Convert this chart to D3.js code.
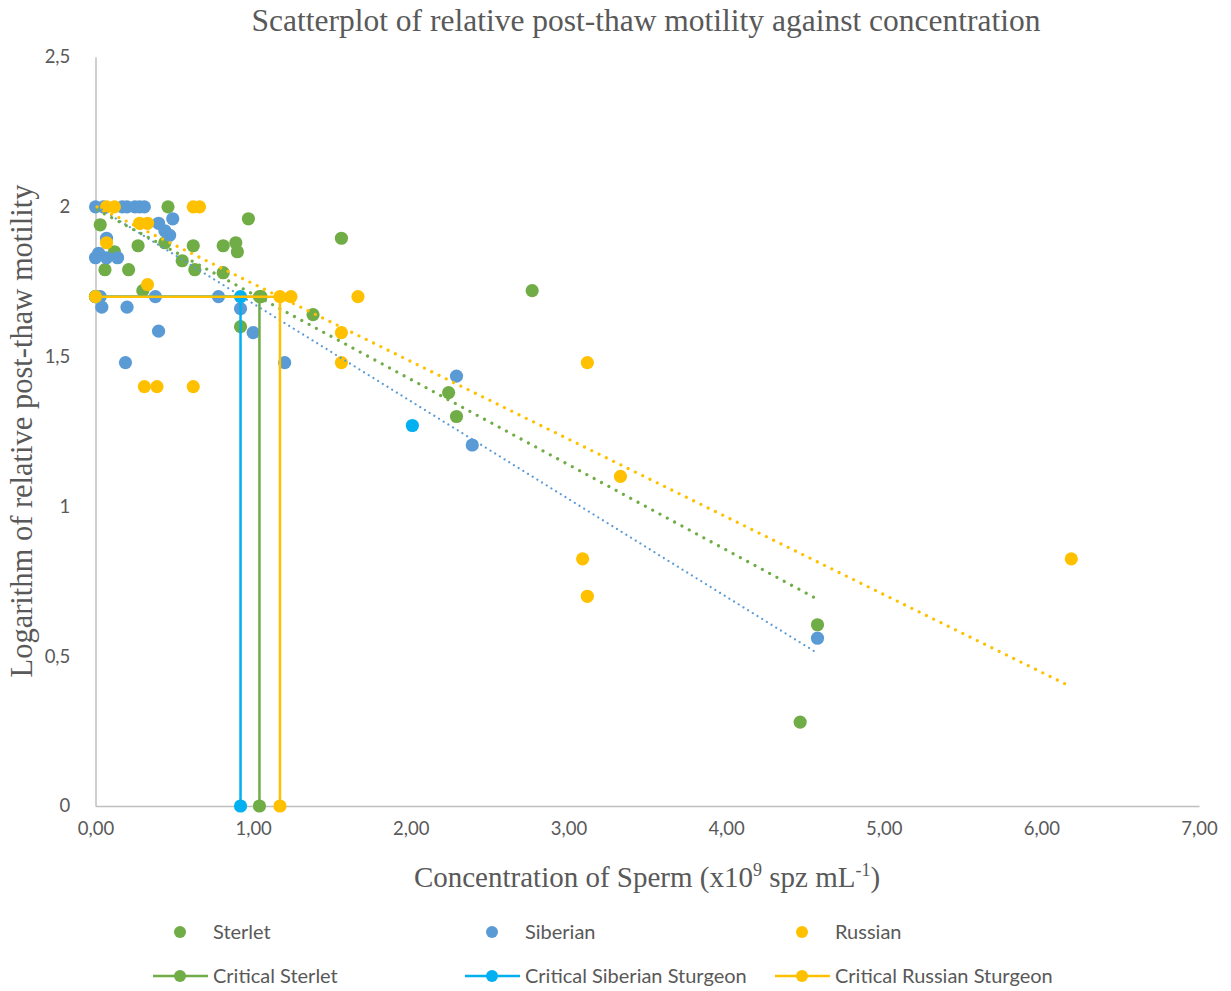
<!DOCTYPE html>
<html>
<head>
<meta charset="utf-8">
<script src="https://cdn.jsdelivr.net/npm/d3@7"></script>
<style>
  html, body { margin: 0; padding: 0; background: #fff; }
  svg { display: block; }
</style>
</head>
<body>
<svg id="chart" width="1231" height="991"></svg>
<script>
// ---------------- DATA ----------------
const xTicks = [0, 1, 2, 3, 4, 5, 6, 7];
const yTicks = [0, 0.5, 1, 1.5, 2, 2.5];

const sterlet = [
  [0.46, 2.00], [0.97, 1.96], [0.03, 1.94], [0.27, 1.87], [0.62, 1.87],
  [0.81, 1.87], [0.89, 1.88], [0.90, 1.85], [0.44, 1.88], [0.12, 1.85],
  [0.55, 1.82], [0.63, 1.79], [0.81, 1.78], [0.06, 1.79], [0.21, 1.79],
  [0.30, 1.72], [0.92, 1.60], [1.38, 1.64], [1.56, 1.895], [2.77, 1.72],
  [2.24, 1.38], [2.29, 1.30], [4.58, 0.605], [4.47, 0.28], [1.05, 1.70]
];
const siberian = [
  [0.00, 2.00], [0.05, 2.00], [0.17, 2.00], [0.20, 2.00], [0.25, 2.00],
  [0.28, 2.00], [0.31, 2.00], [0.49, 1.96], [0.40, 1.945], [0.44, 1.92],
  [0.47, 1.905], [0.07, 1.895], [0.00, 1.83], [0.07, 1.83], [0.14, 1.83],
  [0.02, 1.845], [0.03, 1.70], [0.04, 1.665], [0.20, 1.665], [0.38, 1.70],
  [0.78, 1.70], [0.92, 1.66], [1.00, 1.58], [0.40, 1.585], [0.19, 1.48],
  [1.20, 1.48], [2.29, 1.435], [2.39, 1.205], [4.58, 0.56]
];
const siberianHighlight = [[2.01, 1.27]];
const russian = [
  [0.07, 2.00], [0.12, 2.00], [0.62, 2.00], [0.66, 2.00], [0.28, 1.945],
  [0.33, 1.945], [0.07, 1.88], [0.33, 1.74], [0.00, 1.70], [1.24, 1.70],
  [1.665, 1.70], [1.56, 1.58], [1.56, 1.48], [0.31, 1.40], [0.39, 1.40],
  [0.62, 1.40], [3.12, 1.48], [3.33, 1.10], [3.09, 0.825], [3.12, 0.70],
  [6.19, 0.825]
];

// linear trendlines (endpoints)
const sterletTrend = [[0.01, 1.99], [4.58, 0.69]];
const siberianTrend = [[0.01, 2.00], [4.58, 0.51]];
const russianTrend = [[0.01, 2.00], [6.18, 0.40]];

// critical lines
const criticalSterlet = [[0, 1.70], [1.04, 1.70], [1.04, 0]];
const criticalSiberian = [[0, 1.70], [0.92, 1.70], [0.92, 0]];
const criticalRussian = [[0, 1.70], [1.17, 1.70], [1.17, 0]];

// ---------------- STYLE ----------------
const C = { green: "#70AD47", blue: "#5B9BD5", yellow: "#FFC000", cyan: "#00B0F0", text: "#595959", axis: "#BFBFBF" };
const sansFont = "Lato, 'Open Sans', sans-serif";
const serifFont = "'Liberation Serif', 'Times New Roman', serif";

const svg = d3.select("#chart");
const x = d3.scaleLinear().domain([0, 7]).range([95.5, 1199]);
const y = d3.scaleLinear().domain([0, 2.5]).range([806, 57]);

// title
svg.append("text")
  .attr("x", 646).attr("y", 31)
  .attr("text-anchor", "middle")
  .attr("font-family", serifFont).attr("font-size", 31.5)
  .attr("fill", C.text)
  .text("Scatterplot of relative post-thaw motility against concentration");

// axes
const xAxis = d3.axisBottom(x).tickValues(xTicks).tickSize(0).tickFormat(d => d3.format(".2f")(d).replace(".", ","));
const gx = svg.append("g").attr("transform", `translate(0,${y(0)})`).call(xAxis);
gx.select(".domain").attr("stroke", C.axis).attr("stroke-width", 1.5);
gx.selectAll("text").attr("font-family", sansFont).attr("font-size", 18.5).attr("fill", C.text).attr("dy", "1.38em");

const yAxis = d3.axisLeft(y).tickValues(yTicks).tickSize(0).tickFormat(d => String(d).replace(".", ","));
const gy = svg.append("g").attr("transform", `translate(${x(0)},0)`).call(yAxis);
gy.select(".domain").attr("stroke", C.axis).attr("stroke-width", 1.5);
gy.selectAll("text").attr("font-family", sansFont).attr("font-size", 18.5).attr("fill", C.text).attr("dx", "-1.2em");

// axis titles
const xt = svg.append("text")
  .attr("x", 647).attr("y", 887)
  .attr("text-anchor", "middle")
  .attr("font-family", serifFont).attr("font-size", 29)
  .attr("fill", C.text);
xt.append("tspan").text("Concentration of Sperm (x10");
xt.append("tspan").attr("font-size", 18).attr("dy", -11).text("9");
xt.append("tspan").attr("dy", 11).text(" spz mL");
xt.append("tspan").attr("font-size", 18).attr("dy", -11).text("-1");
xt.append("tspan").attr("dy", 11).text(")");

svg.append("text")
  .attr("transform", `translate(32,431) rotate(-90)`)
  .attr("text-anchor", "middle")
  .attr("font-family", serifFont).attr("font-size", 30.5)
  .attr("fill", C.text)
  .text("Logarithm of relative post-thaw motility");

// scatter series
const R = 6.6;
function scatter(data, color) {
  svg.append("g").selectAll("circle").data(data).join("circle")
    .attr("cx", d => x(d[0])).attr("cy", d => y(d[1])).attr("r", R)
    .attr("fill", color);
}
scatter(sterlet, C.green);
scatter(siberian, C.blue);
scatter(siberianHighlight, C.cyan);
scatter(russian, C.yellow);

// trendlines
const line = d3.line().x(d => x(d[0])).y(d => y(d[1]));
function trend(data, color, w, gap) {
  svg.append("path").datum(data).attr("d", line)
    .attr("fill", "none").attr("stroke", color).attr("stroke-width", w)
    .attr("stroke-linecap", "round").attr("stroke-dasharray", `0.01 ${gap}`);
}
trend(siberianTrend, C.blue, 2.2, 5.5);
trend(sterletTrend, C.green, 3.2, 8.3);
trend(russianTrend, C.yellow, 3.2, 8.1);

// critical lines
function critical(data, color) {
  const g = svg.append("g");
  g.append("path").datum(data).attr("d", line)
    .attr("fill", "none").attr("stroke", color).attr("stroke-width", 2.5);
  g.selectAll("circle").data(data).join("circle")
    .attr("cx", d => x(d[0])).attr("cy", d => y(d[1])).attr("r", R)
    .attr("fill", color);
}
critical(criticalSterlet, C.green);
critical(criticalSiberian, C.cyan);
critical(criticalRussian, C.yellow);

// legend
const legend = [
  { label: "Sterlet", color: C.green, line: false, x: 180, y: 932 },
  { label: "Siberian", color: C.blue, line: false, x: 492, y: 932 },
  { label: "Russian", color: C.yellow, line: false, x: 802, y: 932 },
  { label: "Critical Sterlet", color: C.green, line: true, x: 180, y: 976 },
  { label: "Critical Siberian Sturgeon", color: C.cyan, line: true, x: 492, y: 976 },
  { label: "Critical Russian Sturgeon", color: C.yellow, line: true, x: 802, y: 976 }
];
const lg = svg.append("g").selectAll("g").data(legend).join("g")
  .attr("transform", d => `translate(${d.x},${d.y})`);
lg.filter(d => d.line).append("line")
  .attr("x1", -27).attr("x2", 28).attr("y1", 0).attr("y2", 0)
  .attr("stroke", d => d.color).attr("stroke-width", 2.5);
lg.append("circle").attr("r", 6).attr("fill", d => d.color);
lg.append("text").attr("x", 33).attr("y", 0).attr("dy", "0.35em")
  .attr("font-family", sansFont).attr("font-size", 20).attr("fill", C.text)
  .text(d => d.label);
</script>
</body>
</html>
